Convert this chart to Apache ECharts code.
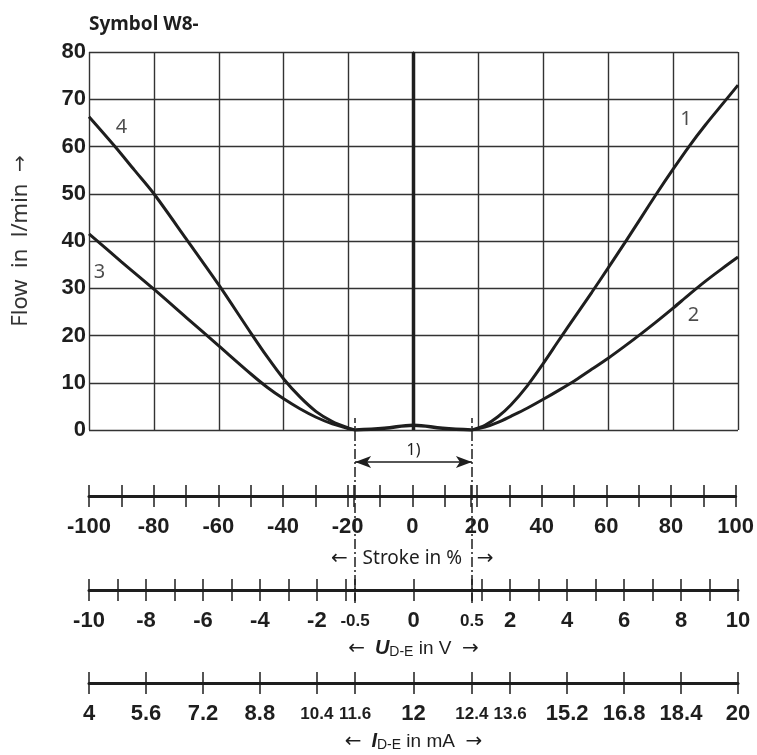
<!DOCTYPE html>
<html><head><meta charset="utf-8">
<script src="https://cdn.jsdelivr.net/npm/echarts@6/dist/echarts.min.js"></script>
<style>html,body{margin:0;padding:0;background:#fff}#c{width:757px;height:755px}</style>
</head><body><div id="c"></div>
<script>
// ---- data ----
const curve1X = [18, 22, 26, 30, 35, 40, 45, 50, 55, 60, 65, 70, 75, 80, 85, 90, 95, 100];
const curve1Y = [0, 1, 2.8, 5.3, 9.3, 14.1, 19.2, 24.2, 29.2, 34.3, 39.5, 44.8, 50.1, 55.2, 60.1, 64.6, 68.8, 73];
const curve2X = [18, 22, 26, 30, 35, 40, 45, 50, 55, 60, 65, 70, 75, 80, 85, 90, 95, 100];
const curve2Y = [0, 0.6, 1.6, 2.9, 4.6, 6.5, 8.5, 10.6, 12.9, 15.2, 17.7, 20.3, 23, 25.8, 28.7, 31.5, 34.1, 36.6];
const curve3X = [-100, -90, -80, -70, -60, -50, -45, -40, -35, -30, -25, -20, -18];
const curve3Y = [41.5, 35.6, 29.8, 23.8, 17.8, 11.8, 9.0, 6.6, 4.5, 2.7, 1.3, 0.3, 0];
const curve4X = [-100, -92, -86, -80, -70, -60, -50, -45, -40, -35, -30, -25, -20, -18];
const curve4Y = [66.3, 60, 55, 50, 40.4, 30.7, 20.4, 15.4, 10.8, 7.0, 3.9, 1.8, 0.4, 0];
const bumpX = [-18, -9, 0, 9, 18];
const bumpY = [0, 0.35, 1.0, 0.35, 0];
const centerX = [0, 0];
const centerY = [0, 80];
const curveNames = ['1', '2', '3', '4'];
const curveNameX = [84, 86.3, -96.8, -90];
const curveNameY = [65.7, 24.2, 33.3, 64];
const deadBand = [-18, 18];

const strokeTicks = [-100,-90,-80,-70,-60,-50,-40,-30,-20,-18,-10,0,10,18,20,30,40,50,60,70,80,90,100];
const strokeLabels = [-100,-80,-60,-40,-20,0,20,40,60,80,100];
const uTicks = [-10,-9,-8,-7,-6,-5,-4,-3,-2,-1,-0.5,0,0.5,1,2,3,4,5,6,7,8,9,10];
const uLabels = ['-10','-8','-6','-4','-2','-0.5','0','0.5','2','4','6','8','10'];
const uLabelVals = [-10,-8,-6,-4,-2,-0.5,0,0.5,2,4,6,8,10];
const iLabels = ['4','5.6','7.2','8.8','10.4','11.6','12','12.4','13.6','15.2','16.8','18.4','20'];
const iLabelVals = [4,5.6,7.2,8.8,10.4,11.6,12,12.4,13.6,15.2,16.8,18.4,20];
const narrowLabels = ['-0.5','0.5','10.4','11.6','12.4','13.6'];
// U (V) scale breakpoints vs. stroke position (%)
const uBreakV = [0, 0.5, 1, 10];
const uBreakPos = [0, 18, 21, 100];

// ---- helpers ----
function zip(xs, ys){ return xs.map((x,i)=>[x, ys[i]]); }
function uToPos(u){
  const a = Math.abs(u), s = u < 0 ? -1 : 1;
  for (let i = 1; i < uBreakV.length; i++) {
    if (a <= uBreakV[i] + 1e-9) {
      const t = (a - uBreakV[i-1]) / (uBreakV[i] - uBreakV[i-1]);
      return s * (uBreakPos[i-1] + t * (uBreakPos[i] - uBreakPos[i-1]));
    }
  }
  return s * uBreakPos[uBreakPos.length-1];
}
function iToPos(i){ return uToPos((i - 12) / 0.8); }
const key = v => v.toFixed(2);
const uLabelPos = uLabelVals.map(uToPos);
const uLabelMap = {}; uLabelPos.forEach((p,i)=>uLabelMap[key(p)] = uLabels[i]);
const iLabelPos = iLabelVals.map(iToPos);
const iLabelMap = {}; iLabelPos.forEach((p,i)=>iLabelMap[key(p)] = iLabels[i]);
function fmt(s){ return narrowLabels.indexOf(s) >= 0 ? '{n|' + s + '}' : s; }

const INK = '#1e1e1e';
const GRIDC = '#333';
const BOLD = "'Liberation Sans', Arial, sans-serif";
const LIGHT = "'Noto Sans', 'Open Sans', sans-serif";
const ARROWF = "'DejaVu Sans', sans-serif";
const labelBase = { color: INK, fontFamily: BOLD, fontWeight: 'bold', fontSize: 22,
  rich: { n: { fontFamily: BOLD, fontWeight: 'bold', fontSize: 17, color: INK, lineHeight: 22, padding: [1, 0, 0, 0] } } };
const nameRich = {
  a: { fontFamily: ARROWF, fontSize: 20, color: INK },
  w: { fontFamily: LIGHT, fontSize: 19, color: INK },
  b: { fontFamily: BOLD, fontWeight: 'bold', fontStyle: 'italic', fontSize: 20, color: INK },
  s: { fontFamily: BOLD, fontSize: 14, color: INK, padding: [7, 0, 0, 0] },
  t: { fontFamily: BOLD, fontSize: 19, color: INK }
};

const L = 89, W = 649;
function bottomPair(gi, tickVals, labelVals, formatter, name, nameGap){
  return [
    { gridIndex: gi, type: 'value', min: -100, max: 100, position: 'bottom',
      axisLine: { show: true, lineStyle: { color: INK, width: 3 } },
      axisTick: { show: true, length: 11, customValues: tickVals, lineStyle: { color: INK, width: 1.5 } },
      axisLabel: Object.assign({ show: true, margin: 20, customValues: labelVals, formatter: formatter }, labelBase),
      splitLine: { show: false },
      name: name, nameLocation: 'middle', nameGap: nameGap,
      nameTextStyle: { color: INK, fontFamily: LIGHT, fontSize: 19, rich: nameRich } },
    { gridIndex: gi, type: 'value', min: -100, max: 100, position: 'top',
      axisLine: { show: false },
      axisTick: { show: true, length: 11, customValues: tickVals, lineStyle: { color: INK, width: 1.5 } },
      axisLabel: { show: false }, splitLine: { show: false } }
  ];
}

const chart = echarts.init(document.getElementById('c'), null, { renderer: 'canvas' });
const option = {
  animation: false,
  backgroundColor: '#fff',
  title: { text: 'Symbol W8-', left: 84, top: 10,
    textStyle: { fontFamily: LIGHT, fontWeight: 'bold', fontSize: 19, color: INK } },
  grid: [
    { left: L, width: W, top: 52, height: 378 },
    { left: L, width: W, top: 496, height: 0 },
    { left: L, width: W, top: 590, height: 0 },
    { left: L, width: W, top: 683, height: 0 },
    { left: L, width: W, top: 418, height: 185 }
  ],
  xAxis: [
    { gridIndex: 0, type: 'value', min: -100, max: 100, interval: 20,
      axisLine: { show: false }, axisTick: { show: false }, axisLabel: { show: false },
      splitLine: { show: true, lineStyle: { color: GRIDC, width: 1.4 } } },
    ...bottomPair(1, strokeTicks, strokeLabels, v => String(v),
      '{a|←}{w|   Stroke in %   }{a|→}', 53),
    ...bottomPair(2, uTicks.map(uToPos), uLabelPos, v => fmt(uLabelMap[key(v)] || ''),
      '{a|←}{w|  }{b|U}{s|D-E}{t| in V  }{a|→}', 48),
    ...bottomPair(3, iLabelPos, iLabelPos, v => fmt(iLabelMap[key(v)] || ''),
      '{a|←}{w|  }{b|I}{s|D-E}{t| in mA  }{a|→}', 48),
    { gridIndex: 4, type: 'value', min: -100, max: 100, show: false }
  ],
  yAxis: [
    { gridIndex: 0, type: 'value', min: 0, max: 80, interval: 10,
      axisLine: { show: true, lineStyle: { color: GRIDC, width: 1.4 } }, axisTick: { show: false },
      axisLabel: { color: INK, fontFamily: BOLD, fontWeight: 'bold', fontSize: 22, margin: 3 },
      splitLine: { show: true, lineStyle: { color: GRIDC, width: 1.4 } },
      name: '{w|Flow  in  l/min  }{a|→}', nameLocation: 'middle', nameRotate: 90, nameGap: 57,
      nameTextStyle: { color: '#333', fontFamily: LIGHT, fontSize: 22,
        rich: { w: { fontFamily: LIGHT, fontSize: 22, color: '#333' }, a: { fontFamily: ARROWF, fontSize: 20, color: '#333' } } } },
    { gridIndex: 1, type: 'value', show: false },
    { gridIndex: 2, type: 'value', show: false },
    { gridIndex: 3, type: 'value', show: false },
    { gridIndex: 4, type: 'value', min: 0, max: 1, show: false }
  ],
  series: [
    ...[[curve1X,curve1Y],[curve2X,curve2Y],[curve3X,curve3Y],[curve4X,curve4Y]].map(([xs,ys]) => ({
      type: 'line', xAxisIndex: 0, yAxisIndex: 0, data: zip(xs, ys), smooth: 0.3,
      showSymbol: false, lineStyle: { color: INK, width: 3 }, z: 5 })),
    { type: 'line', xAxisIndex: 0, yAxisIndex: 0, data: zip(bumpX, bumpY), smooth: 0.4,
      showSymbol: false, lineStyle: { color: INK, width: 3.5 }, z: 5 },
    { type: 'line', xAxisIndex: 0, yAxisIndex: 0, data: zip(centerX, centerY),
      showSymbol: false, lineStyle: { color: INK, width: 3.5 }, z: 5 },
    { type: 'scatter', xAxisIndex: 0, yAxisIndex: 0, symbolSize: 0,
      data: curveNames.map((n,i) => ({ value: [curveNameX[i], curveNameY[i]], name: n })),
      label: { show: true, position: 'inside', formatter: p => p.name,
        fontFamily: LIGHT, fontSize: 20, color: INK }, z: 6 },
    { type: 'line', xAxisIndex: 7, yAxisIndex: 4, data: [], showSymbol: false, silent: true,
      markLine: { silent: true, symbol: 'none', animation: false, label: { show: false },
        lineStyle: { color: INK, width: 1.5, type: [10, 3, 2, 3] },
        data: deadBand.map(x => ({ xAxis: x })) } },
    { type: 'line', xAxisIndex: 7, yAxisIndex: 4, data: [], showSymbol: false, silent: true,
      markLine: { silent: true, animation: false, symbol: ['arrow', 'arrow'], symbolSize: [9, 16],
        lineStyle: { color: INK, width: 1.5, type: 'solid' },
        label: { show: true, position: 'middle', formatter: '1)', fontFamily: LIGHT, fontSize: 16, color: INK, distance: 4 },
        data: [[{ coord: [deadBand[0], 0.762] }, { coord: [deadBand[1], 0.762] }]] } }
  ]
};
chart.setOption(option);
</script></body></html>
